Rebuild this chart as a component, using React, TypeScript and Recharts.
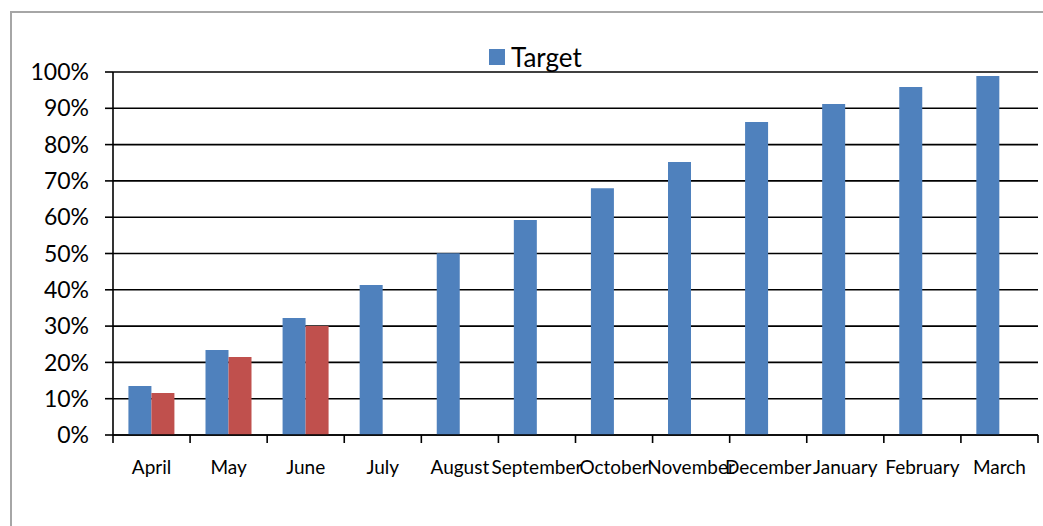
import React from "react";
import { BarChart, Bar, XAxis, YAxis, CartesianGrid, Legend } from "recharts";

const months = ["April", "May", "June", "July", "August", "September", "October", "November", "December", "January", "February", "March"];
const targetValues = [13.5, 23.4, 32.2, 41.3, 50.1, 59.2, 68.0, 75.2, 86.2, 91.2, 95.9, 98.9];
const actualValues: (number | null)[] = [11.6, 21.5, 30.0, null, null, null, null, null, null, null, null, null];
const yTicks = [0, 10, 20, 30, 40, 50, 60, 70, 80, 90, 100];

const data = months.map((m, i) => ({ month: m, Target: targetValues[i], Actual: actualValues[i] }));

const FONT = "Lato, 'Open Sans', sans-serif";
const X_TICK_MARGIN = 19;
const X_TICK_LEN = 8;
const X_LABEL_SHIFT = 7;

const MonthTick = (props: any) => {
  const { x, y, payload, index, visibleTicksCount } = props;
  const half = typeof payload.offset === "number" ? payload.offset : 0;
  const axisY = y - X_TICK_MARGIN;
  const isLast = index === visibleTicksCount - 1;
  return (
    <g>
      <line x1={x - half} x2={x - half} y1={axisY} y2={axisY + X_TICK_LEN} stroke="#000" strokeWidth={1.6} />
      {isLast && <line x1={x + half} x2={x + half} y1={axisY} y2={axisY + X_TICK_LEN} stroke="#000" strokeWidth={1.6} />}
      <text x={x} y={y + X_LABEL_SHIFT} dy="0.71em" textAnchor="middle" fill="#000" fontSize={19} fontFamily={FONT}>
        {payload.value}
      </text>
    </g>
  );
};

const LegendContent = (props: any) => {
  const items = (props.payload || []).filter((p: any) => p.type !== "none");
  return (
    <div style={{ display: "flex", alignItems: "center", fontSize: 26, fontFamily: FONT, lineHeight: "30px" }}>
      {items.map((p: any) => (
        <span key={p.value} style={{ display: "flex", alignItems: "center" }}>
          <span style={{ display: "inline-block", width: 16, height: 16, background: p.color, marginRight: 6 }} />
          <span style={{ color: "#000" }}>{p.value}</span>
        </span>
      ))}
    </div>
  );
};

export default function App() {
  return (
    <div style={{ position: "absolute", left: 0, top: 0, width: 1043, height: 526, overflow: "hidden", background: "#fff", fontFamily: FONT }}>
      <div style={{ position: "absolute", left: 10, top: 11, width: 1100, height: 600, border: "2px solid #a6a6a6", boxSizing: "border-box" }} />
      <div style={{ position: "absolute", left: 0, top: 0 }}>
        <BarChart width={1043} height={526} data={data} margin={{ top: 72, right: 5, bottom: 0, left: 0 }} barCategoryGap="20%" barGap={0}>
          <CartesianGrid vertical={false} stroke="#000" strokeWidth={1.6} />
          <XAxis
            dataKey="month"
            height={91}
            interval={0}
            tickLine={false}
            tickSize={0}
            tickMargin={X_TICK_MARGIN}
            axisLine={{ stroke: "#000", strokeWidth: 1.6 }}
            tick={<MonthTick />}
          />
          <YAxis
            width={113}
            domain={[0, 100]}
            ticks={yTicks}
            tickFormatter={(v: number) => v + "%"}
            tickSize={8}
            tickMargin={16}
            axisLine={{ stroke: "#000", strokeWidth: 1.6 }}
            tickLine={{ stroke: "#000", strokeWidth: 1.6 }}
            tick={{ fill: "#000", fontSize: 23, fontFamily: FONT }}
          />
          <Legend
            layout="horizontal"
            verticalAlign="middle"
            align="center"
            content={LegendContent}
            wrapperStyle={{ left: 489, top: 42, width: 160, height: 30 }}
          />
          <Bar dataKey="Target" fill="#4F81BD" isAnimationActive={false} />
          <Bar dataKey="Actual" fill="#C0504D" legendType="none" isAnimationActive={false} />
        </BarChart>
      </div>
    </div>
  );
}
